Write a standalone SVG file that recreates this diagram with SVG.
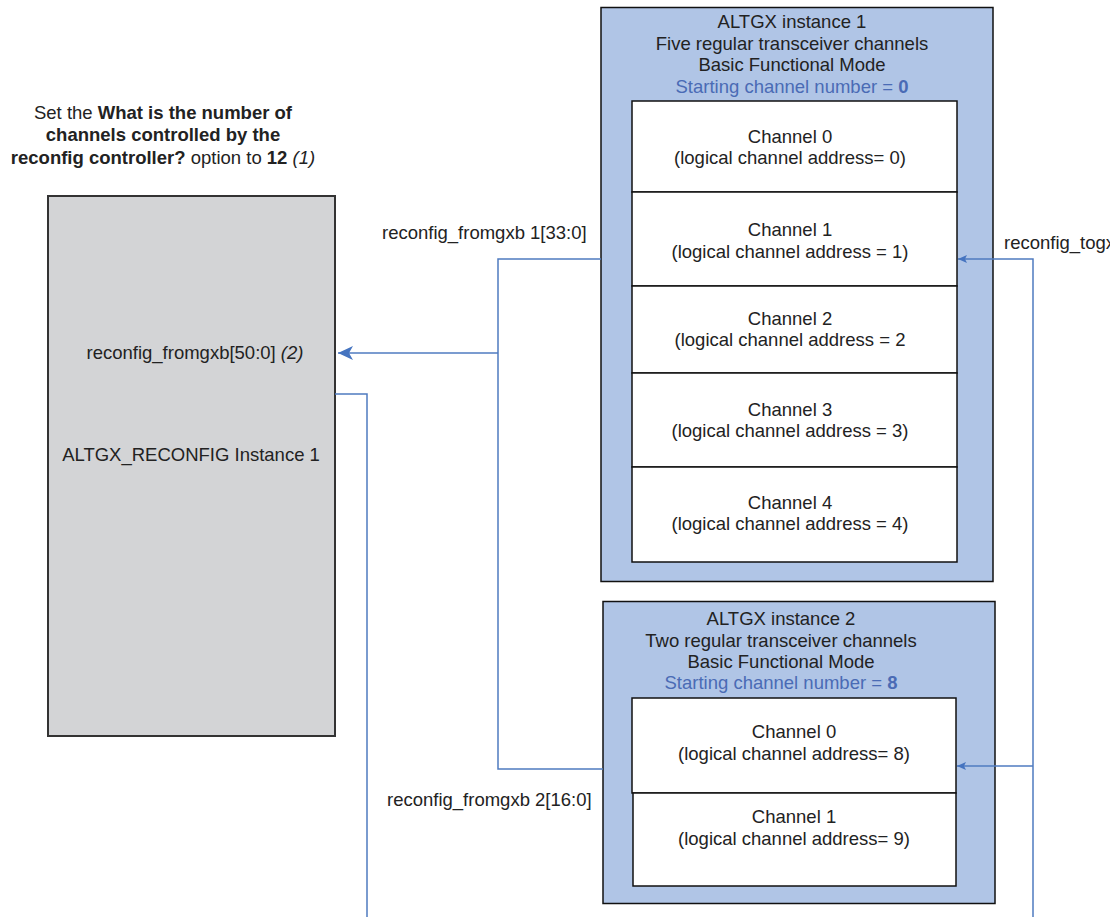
<svg xmlns="http://www.w3.org/2000/svg" width="1110" height="917" viewBox="0 0 1110 917">
<style>
text{font-family:"Liberation Sans",Arial,sans-serif;font-size:18.5px;fill:#222}
.c{text-anchor:middle}
.b{font-weight:bold}
.i{font-style:italic}
.blue{fill:#4a6bb5}
.outer{fill:#b0c5e6;stroke:#111;stroke-width:1.5}
.inner{fill:#fff;stroke:#111;stroke-width:1.5}
.gray{fill:#d3d4d6;stroke:#333;stroke-width:2}
.wire{fill:none;stroke:#4f7bc0;stroke-width:1.5}
</style>
<defs>
<marker id="big" markerUnits="userSpaceOnUse" markerWidth="16" markerHeight="14" refX="15" refY="7" orient="auto"><path d="M0,0 L15,7 L0,14 L4,7 Z" fill="#4574c0"/></marker>
<marker id="small" markerUnits="userSpaceOnUse" markerWidth="10" markerHeight="8" refX="9" refY="4" orient="auto"><path d="M0,0 L9,4 L0,8 L2,4 Z" fill="#4574c0"/></marker>
</defs>
<g id="title">
<text class="c" x="163" y="119">Set the <tspan class="b">What is the number of</tspan></text>
<text class="c b" x="163" y="141">channels controlled by the</text>
<text class="c" x="163" y="164"><tspan class="b">reconfig controller?</tspan> option to <tspan class="b">12</tspan> <tspan class="i">(1)</tspan></text>
</g>
<g id="reconfig">
<rect class="gray" x="48" y="196" width="287" height="540"/>
<text class="c" x="195" y="359">reconfig_fromgxb[50:0] <tspan class="i">(2)</tspan></text>
<text class="c" x="191" y="461">ALTGX_RECONFIG Instance 1</text>
</g>
<g id="altgx1">
<rect class="outer" x="601" y="7.5" width="392" height="574"/>
<text class="c" x="792" y="28">ALTGX instance 1</text>
<text class="c" x="792" y="50">Five regular transceiver channels</text>
<text class="c" x="792" y="71">Basic Functional Mode</text>
<text class="c blue" x="792" y="93">Starting channel number = <tspan class="b blue">0</tspan></text>
</g>
<g id="a1ch0"><rect class="inner" x="632" y="101" width="325" height="91"/>
<text class="c" x="790" y="143">Channel 0</text><text class="c" x="790" y="164">(logical channel address= 0)</text></g>
<g id="a1ch1"><rect class="inner" x="632" y="192" width="325" height="94"/>
<text class="c" x="790" y="236">Channel 1</text><text class="c" x="790" y="258">(logical channel address = 1)</text></g>
<g id="a1ch2"><rect class="inner" x="632" y="286" width="325" height="87"/>
<text class="c" x="790" y="325">Channel 2</text><text class="c" x="790" y="346">(logical channel address = 2</text></g>
<g id="a1ch3"><rect class="inner" x="632" y="373" width="325" height="94"/>
<text class="c" x="790" y="416">Channel 3</text><text class="c" x="790" y="437">(logical channel address = 3)</text></g>
<g id="a1ch4"><rect class="inner" x="632" y="467" width="325" height="95"/>
<text class="c" x="790" y="509">Channel 4</text><text class="c" x="790" y="530">(logical channel address = 4)</text></g>
<g id="altgx2">
<rect class="outer" x="603" y="601.5" width="392" height="302"/>
<text class="c" x="781" y="625">ALTGX instance 2</text>
<text class="c" x="781" y="647">Two regular transceiver channels</text>
<text class="c" x="781" y="668">Basic Functional Mode</text>
<text class="c blue" x="781" y="689">Starting channel number = <tspan class="b blue">8</tspan></text>
</g>
<g id="a2ch0"><rect class="inner" x="632" y="698" width="324" height="95"/>
<text class="c" x="794" y="738">Channel 0</text><text class="c" x="794" y="760">(logical channel address= 8)</text></g>
<g id="a2ch1"><rect class="inner" x="633" y="793" width="323" height="93"/>
<text class="c" x="794" y="823">Channel 1</text><text class="c" x="794" y="845">(logical channel address= 9)</text></g>
<g id="labels">
<text x="382" y="239">reconfig_fromgxb 1[33:0]</text>
<text x="387" y="806">reconfig_fromgxb 2[16:0]</text>
<text x="1004" y="249">reconfig_togx</text>
</g>
<g id="connectors">
<path class="wire" d="M601,259 H498 V769 H603"/>
<path class="wire" d="M498,353 H338" marker-end="url(#big)"/>
<path class="wire" d="M335,394 H367 V917"/>
<path class="wire" d="M1033,917 V259 H958" marker-end="url(#small)"/>
<path class="wire" d="M1033,766 H957" marker-end="url(#small)"/>
</g>
</svg>
